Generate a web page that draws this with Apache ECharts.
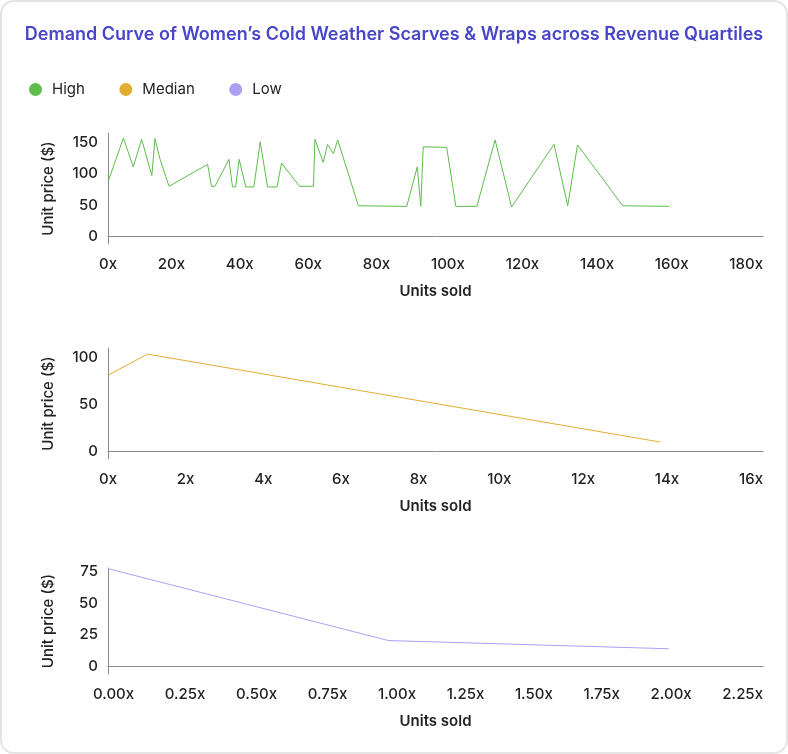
<!DOCTYPE html>
<html>
<head>
<meta charset="utf-8">
<script src="https://cdn.jsdelivr.net/npm/echarts@6/dist/echarts.min.js"></script>
<style>
  html, body { margin: 0; padding: 0; background: #ffffff; }
  #card { position: absolute; left: 0; top: 0; width: 788px; height: 754px; box-sizing: border-box;
          border: 2px solid #e4e4e4; border-radius: 14px; background: #fff; }
  #chart { position: absolute; left: 0; top: 0; width: 788px; height: 754px; }
</style>
</head>
<body>
<div id="card"></div>
<div id="chart"></div>
<script>
// ---------------- DATA ----------------
const titleText = 'Demand Curve of Women\u2019s Cold Weather Scarves & Wraps across Revenue Quartiles';
const seriesNames = ['High', 'Median', 'Low'];

const highUnits = [0, 4.4, 7.2, 9.6, 12.5, 13.4, 14.8, 17.4, 28.4, 29.5, 30.5, 34.5, 35.5, 36.4, 37.4, 39.3, 41.6, 43.4,
  45.5, 48.2, 49.5, 54.6, 58.6, 59, 61.4, 62.6, 64.3, 65.5, 71.4, 85.2, 88.2, 89.2, 89.9, 96.6, 99.2, 105.2, 110.4, 115.1,
  127.2, 131.1, 133.9, 146.8, 160];
const highPrice = [87, 157, 111, 155, 97, 156, 124, 80, 115, 80, 80, 123, 79, 79, 123, 79, 79, 151,
  79, 79, 117, 80, 80, 155, 118, 147, 132, 154, 49, 48, 111, 48, 143, 142, 48, 48, 154, 47,
  147, 49, 146, 49, 48];

const medianUnits = [0, 1, 14];
const medianPrice = [81, 103.5, 10];

const lowUnits = [0, 1, 2];
const lowPrice = [77.5, 20.5, 14];

const highXTicks = [0, 20, 40, 60, 80, 100, 120, 140, 160, 180];
const highXLabels = ['0x', '20x', '40x', '60x', '80x', '100x', '120x', '140x', '160x', '180x'];
const highYTicks = [0, 50, 100, 150];

const medianXTicks = [0, 2, 4, 6, 8, 10, 12, 14, 16];
const medianXLabels = ['0x', '2x', '4x', '6x', '8x', '10x', '12x', '14x', '16x'];
const medianYTicks = [0, 50, 100];

const lowXTicks = [0, 0.25, 0.5, 0.75, 1, 1.25, 1.5, 1.75, 2, 2.25];
const lowXLabels = ['0.00x', '0.25x', '0.50x', '0.75x', '1.00x', '1.25x', '1.50x', '1.75x', '2.00x', '2.25x'];
const lowYTicks = [0, 25, 50, 75];

const colors = ['#5cbd4a', '#e2ad30', '#ae9ff4'];

// ---------------- LAYOUT ----------------
const FONT = 'Inter';
const GRID_LEFT = 108, GRID_RIGHT = 25, CHART_W = 788;
const PLOT_W = CHART_W - GRID_LEFT - GRID_RIGHT;
const grids = [
  { left: GRID_LEFT, right: GRID_RIGHT, top: 133, height: 111 },
  { left: GRID_LEFT, right: GRID_RIGHT, top: 348, height: 111 },
  { left: GRID_LEFT, right: GRID_RIGHT, top: 568, height: 106 }
];

const measureCtx = document.createElement('canvas').getContext('2d');
const labelStyle = { fontFamily: FONT, fontSize: 15, fontWeight: 500, color: '#222' };

function xAxisFor(gridIndex, ticks, labels, max) {
  measureCtx.font = '500 15px ' + FONT;
  const widths = labels.map(t => measureCtx.measureText(t).width);
  const x0 = GRID_LEFT, R = GRID_LEFT + PLOT_W;
  const L = Math.max(x0 - widths[0] / 2, x0 - 15);
  const total = widths.reduce((a, b) => a + b, 0);
  const gap = (R - L - total) / (labels.length - 1);
  let cur = L;
  const rich = {};
  labels.forEach((t, i) => {
    const c = cur + widths[i] / 2;
    const truePos = x0 + ticks[i] / max * PLOT_W;
    const d = c - truePos;
    rich['p' + i] = Object.assign({}, labelStyle, { padding: d >= 0 ? [0, 0, 0, 2 * d] : [0, -2 * d, 0, 0] });
    cur += widths[i] + gap;
  });
  return {
    type: 'value', gridIndex: gridIndex, min: 0, max: max,
    axisLine: { show: true, lineStyle: { color: '#8a8a8a', width: 1 } },
    axisTick: { show: false },
    splitLine: { show: false },
    axisLabel: {
      customValues: ticks,
      margin: 13,
      fontFamily: FONT, fontSize: 15, fontWeight: 500, color: '#222',
      formatter: function (v) {
        const i = ticks.findIndex(t => Math.abs(t - v) < 1e-9);
        return i < 0 ? '' : '{p' + i + '|' + labels[i] + '}';
      },
      rich: rich
    },
    name: 'Units sold', nameLocation: 'middle', nameGap: 40,
    nameTextStyle: { fontFamily: FONT, fontSize: 15, fontWeight: 600, color: '#222' }
  };
}

function yAxisFor(gridIndex, ticks, min, max) {
  return {
    type: 'value', gridIndex: gridIndex, min: min, max: max,
    axisLine: { show: true, lineStyle: { color: '#8a8a8a', width: 1 } },
    axisTick: { show: false },
    splitLine: { show: false },
    axisLabel: { customValues: ticks, margin: 10, fontFamily: FONT, fontSize: 15, fontWeight: 500, color: '#222' },
    name: 'Unit price ($)', nameLocation: 'middle', nameGap: 52,
    nameTextStyle: { fontFamily: FONT, fontSize: 15, fontWeight: 500, color: '#222' }
  };
}

function pairs(xs, ys) { return xs.map((x, i) => [x, ys[i]]); }

function lineSeries(name, idx, xs, ys) {
  return {
    name: name, type: 'line', xAxisIndex: idx, yAxisIndex: idx,
    data: pairs(xs, ys), showSymbol: false, symbol: 'none',
    itemStyle: { color: colors[idx] },
    lineStyle: { color: colors[idx], width: 1 },
    animation: false
  };
}

const chart = echarts.init(document.getElementById('chart'), null, { renderer: 'canvas' });
chart.setOption({
  animation: false,
  backgroundColor: 'transparent',
  title: {
    text: titleText, left: 'center', top: 21,
    textStyle: { fontFamily: FONT, fontSize: 18, fontWeight: 600, color: '#4846c8' }
  },
  legend: {
    data: seriesNames, left: 24, top: 77, icon: 'circle', itemWidth: 13, itemHeight: 13, itemGap: 34.5,
    textStyle: { fontFamily: FONT, fontSize: 15, color: '#222', padding: [0, 0, 0, 5] }
  },
  grid: grids,
  xAxis: [
    xAxisFor(0, highXTicks, highXLabels, 186.8),
    xAxisFor(1, medianXTicks, medianXLabels, 16.6),
    xAxisFor(2, lowXTicks, lowXLabels, 2.336)
  ],
  yAxis: [
    yAxisFor(0, highYTicks, -12, 165),
    yAxisFor(1, medianYTicks, -8, 110),
    yAxisFor(2, lowYTicks, -6, 78)
  ],
  series: [
    lineSeries('High', 0, highUnits, highPrice),
    lineSeries('Median', 1, medianUnits, medianPrice),
    lineSeries('Low', 2, lowUnits, lowPrice)
  ]
});
</script>
</body>
</html>
